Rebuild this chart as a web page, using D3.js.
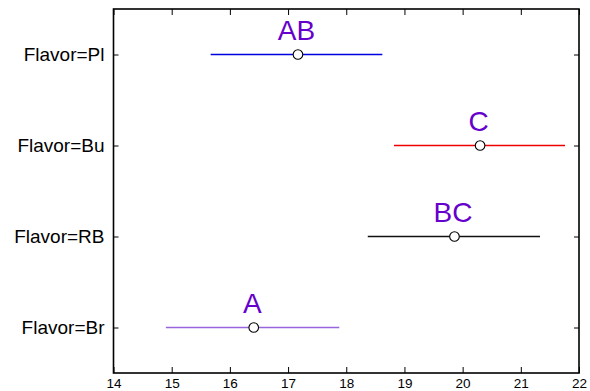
<!DOCTYPE html>
<html>
<head>
<meta charset="utf-8">
<script src="https://cdn.jsdelivr.net/npm/d3@7"></script>
<style>
body{margin:0;background:#fff;}
svg{font-family:Arial,"Liberation Sans",sans-serif;}
</style>
</head>
<body>
<div id="chart"></div>
<script>
//data
var flavors=["Pl","Bu","RB","Br"];
var means=[17.17,20.30,19.86,16.41];
var lowers=[15.67,18.82,18.37,14.90];
var uppers=[18.62,21.76,21.33,17.88];
var groups=["AB","C","BC","A"];
var lineColors=["#0000dd","#ee0000","#111111","#9966dd"];
var xTicks=[14,15,16,17,18,19,20,21,22];

//set size
var svgWidth=590;
var svgHeight=391;
var margin={top:9,right:11,bottom:18,left:113.5};
var width=svgWidth-margin.left-margin.right;
var height=svgHeight-margin.top-margin.bottom;

var svg=d3.select("#chart")
    .append("svg")
    .attr("width",svgWidth)
    .attr("height",svgHeight);

var chartGroup=svg.append("g")
    .attr("transform",`translate(${margin.left},${margin.top})`);

var x=d3.scaleLinear().domain([14,22]).range([0,width]);
var y=d3.scalePoint().domain(flavors).range([0,height]).padding(0.5);

var rows=flavors.map((f,i)=>({flavor:f,mean:means[i],lo:lowers[i],hi:uppers[i],grp:groups[i],color:lineColors[i]}));

//axes, ticks pointing inward
var bottomAxis=d3.axisBottom(x).tickValues(xTicks).tickSizeInner(-6).tickSizeOuter(0).tickPadding(5.5);
var topAxis=d3.axisTop(x).tickValues(xTicks).tickSizeInner(-6).tickSizeOuter(0).tickFormat("");
var leftAxis=d3.axisLeft(y).tickSizeInner(-5).tickSizeOuter(0).tickPadding(9).tickFormat(d=>"Flavor="+d);
var rightAxis=d3.axisRight(y).tickSizeInner(-5).tickSizeOuter(0).tickFormat("");

var xAxisG=chartGroup.append("g").attr("transform",`translate(0,${height})`).call(bottomAxis);
chartGroup.append("g").call(topAxis);
var yAxisG=chartGroup.append("g").call(leftAxis);
chartGroup.append("g").attr("transform",`translate(${width},0)`).call(rightAxis);

chartGroup.selectAll(".domain").remove();
chartGroup.selectAll(".tick line").attr("stroke","#000").attr("stroke-width",1);
xAxisG.selectAll("text").attr("font-size","13.5px").attr("fill","#000");
yAxisG.selectAll("text").attr("font-size","19px").attr("fill","#000");

//frame
chartGroup.append("rect")
    .attr("x",0).attr("y",0)
    .attr("width",width).attr("height",height)
    .attr("fill","none")
    .attr("stroke","#000")
    .attr("stroke-width",1.6);

//interval lines
chartGroup.selectAll(".ci")
    .data(rows)
    .enter()
    .append("line")
    .attr("class","ci")
    .attr("x1",d=>x(d.lo))
    .attr("x2",d=>x(d.hi))
    .attr("y1",d=>y(d.flavor))
    .attr("y2",d=>y(d.flavor))
    .attr("stroke",d=>d.color)
    .attr("stroke-width",1.4);

//mean points
chartGroup.selectAll("circle")
    .data(rows)
    .enter()
    .append("circle")
    .attr("cx",d=>x(d.mean))
    .attr("cy",d=>y(d.flavor))
    .attr("r",4.8)
    .attr("fill","#fff")
    .attr("stroke","#000")
    .attr("stroke-width",1.1);

//group letters
chartGroup.selectAll(".grp")
    .data(rows)
    .enter()
    .append("text")
    .attr("class","grp")
    .attr("x",d=>x(d.mean)-1.5)
    .attr("y",d=>y(d.flavor)-15)
    .attr("text-anchor","middle")
    .attr("font-size","28px")
    .attr("fill","#6600cc")
    .text(d=>d.grp);
</script>
</body>
</html>
